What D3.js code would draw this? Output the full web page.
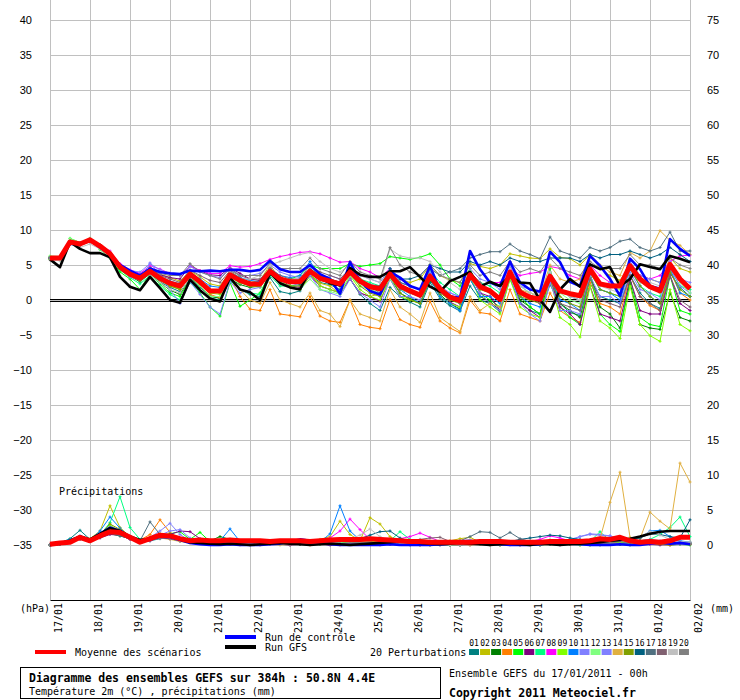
<!DOCTYPE html>
<html>
<head>
<meta charset="utf-8">
<script src="https://cdn.jsdelivr.net/npm/d3@7"></script>
<style>
  body { margin: 0; background: #fff; }
  text { font-family: "DejaVu Sans Mono", monospace; font-size: 10px; fill: #000; }
  .num text { font-family: "Liberation Sans", Arial, sans-serif; font-size: 11px; }
</style>
</head>
<body>
<div id="chart"></div>
<script>
// days on the x axis, one every 4 steps of 6h
var dates = ["17/01","18/01","19/01","20/01","21/01","22/01","23/01","24/01","25/01",
             "26/01","27/01","28/01","29/01","30/01","31/01","01/02","02/02"];
var tempTicks = [40,35,30,25,20,15,10,5,0,-5,-10,-15,-20,-25,-30,-35];
var precipTicks = [75,70,65,60,55,50,45,40,35,30,25,20,15,10,5,0];
var memberNames = ["01","02","03","04","05","06","07","08","09","10",
                   "11","12","13","14","15","16","17","18","19","20"];
var memberColors = ["#008080","#c0c000","#008000","#ff8000","#00ff00","#800080","#00ff80",
                    "#ff00ff","#80ff00","#0080ff","#8080ff","#80ff80","#8080ff","#e0b040",
                    "#80a000","#006080","#507080","#806070","#c0c0c0","#808080"];

// temperature 2m (°C), 65 steps of 6h
var tMean = [6.0,6.0,8.3,8.0, 8.6,7.7,6.6,4.7, 3.7,3.1,4.1,3.1, 2.4,2.0,3.7,2.6, 1.3,1.3,3.6,2.8, 2.3,2.3,4.1,3.0, 2.6,2.6,4.1,3.1, 2.7,2.3,4.0,2.7, 1.9,1.6,3.7,2.0, 1.3,0.7,3.4,1.6, 0.4,-0.1,3.6,1.9, 1.3,0.1,4.0,1.1, 0.4,0.1,3.4,1.3, 0.9,0.6,4.4,2.3, 2.0,2.0,4.9,3.0, 1.9,1.3,5.1,3.0, 1.6];
var tCtrl = [6.0,6.0,8.0,8.0, 8.5,7.5,6.5,5.0, 4.2,3.5,4.5,4.0, 3.8,3.7,4.2,4.1, 4.2,4.1,4.3,4.3, 4.1,4.3,5.6,4.4, 4.0,4.0,5.0,3.7, 3.0,0.9,5.4,2.7, 1.3,0.8,4.0,3.2, 2.0,1.5,4.9,1.3, 0.5,0.3,7.0,4.4, 2.5,2.0,5.5,2.5, 1.5,1.2,6.9,5.4, 2.6,2.0,6.3,4.9, 3.0,0.6,5.9,4.4, 2.0,1.6,8.7,7.3, 6.3];
var tGfs = [5.8,4.7,8.3,7.3, 6.7,6.7,6.1,3.3, 1.9,1.4,3.3,1.7, 0.0,-0.4,2.9,1.4, 0.2,-0.2,3.2,1.5, 1.1,0.0,3.9,2.4, 1.8,1.5,4.3,3.1, 2.4,2.1,4.6,3.6, 3.3,3.3,4.1,4.1, 4.7,3.3,1.9,1.2, 2.7,3.3,4.0,1.9, 2.6,2.0,3.5,2.5, 2.4,0.0,-1.7,1.5, 3.0,1.9,5.1,4.4, 4.7,2.0,3.0,5.1, 4.7,4.4,6.3,5.9, 5.4];
var t01 = [5.9,6.1,8.2,7.9, 8.5,7.6,6.4,4.5, 3.5,2.8,4.0,2.6, 1.8,1.2,3.0,1.8, 0.6,0.2,2.8,1.5, 0.8,0.5,3.2,1.2, 0.9,1.3,3.6,2.5, 2.2,1.5,3.0,0.8, -0.5,-1.5,1.8,0.5, -0.3,-1.0,2.5,0.2, -0.8,-1.6,2.0,0.0, -0.5,-1.7,3.0,-0.3, -1.5,-2.0,2.2,-0.5, -1.8,-2.2,3.0,0.5, 0.0,-0.5,3.5,1.0, -0.5,-1.2,3.8,1.8, 0.5];
var t02 = [6.0,6.2,8.4,8.1, 8.7,7.9,6.8,5.0, 4.1,3.5,4.6,3.7, 3.2,2.7,4.2,3.3, 2.3,2.0,4.1,3.2, 2.5,2.8,5.0,3.0, 1.8,1.5,3.4,2.4, 2.0,0.8,3.1,1.0, 0.5,0.9,3.9,3.0, 2.5,3.0,5.0,3.5, 2.8,2.5,5.2,4.8, 4.5,5.0,6.6,6.3, 6.0,5.9,7.3,6.1, 5.9,5.0,6.5,4.5, 3.5,2.8,5.0,3.5, 3.0,2.5,6.0,4.5, 4.0];
var t03 = [5.8,5.9,8.2,8.0, 8.4,7.5,6.3,4.4, 3.4,2.6,3.8,2.5, 1.4,0.8,3.2,2.0, 0.5,0.3,3.0,2.2, 1.8,2.0,3.8,2.8, 2.4,2.6,4.0,3.0, 2.8,2.5,4.2,2.5, 1.5,0.6,3.2,1.0, 0.2,-0.5,2.8,0.8, -0.5,-1.3,3.0,0.5, -0.2,-1.5,3.8,0.0, -1.0,-2.0,3.5,-0.5, -1.5,-2.5,3.8,-1.0, -2.0,-4.0,2.5,-3.5, -4.0,-4.2,1.0,-2.5, -3.0];
var t04 = [6.1,6.0,8.3,7.8, 8.6,7.7,6.5,4.6, 3.6,3.0,4.3,3.0, 2.0,1.6,3.5,2.3, 0.8,0.3,3.3,0.5, -1.3,-1.5,1.5,-2.0, -2.2,-2.4,0.5,-2.3, -3.0,-3.2,0.0,-3.5, -3.9,-4.1,0.1,-2.8, -3.5,-3.9,-0.2,-3.0, -4.0,-4.7,0.0,-1.8, -2.0,-3.0,1.5,-2.0, -2.5,-3.0,1.0,-1.5, -2.5,-3.2,2.5,-0.5, -1.0,-2.0,3.5,0.5, -0.8,-1.5,4.2,1.0, 0.0];
var t05 = [6.2,5.7,8.8,8.2, 8.8,7.2,6.0,4.0, 3.0,1.5,3.8,2.3, 1.0,0.5,3.0,1.0, -1.0,-2.3,2.5,-0.9, 0.0,1.0,3.8,3.0, 3.0,3.5,5.0,4.5, 4.5,4.5,5.2,4.8, 5.0,5.2,6.2,6.0, 5.8,6.1,6.6,5.0, 3.0,2.0,4.5,1.0, 0.0,-1.0,4.0,0.5, -1.0,-2.0,4.5,-1.0, -2.5,-3.5,3.5,-2.0, -3.5,-4.5,3.0,-2.5, -3.5,-3.8,3.5,-1.5, -2.0];
var t06 = [6.0,6.0,8.2,8.1, 8.6,7.7,6.7,4.9, 4.0,3.5,4.6,3.6, 3.2,3.0,4.9,4.2, 3.6,3.5,4.6,3.8, 3.0,2.8,4.5,3.0, 2.0,1.8,3.5,2.0, 1.5,1.0,3.0,1.0, 0.5,-0.2,3.2,1.5, 1.0,0.5,3.8,1.5, -0.3,-1.0,3.5,1.0, 0.5,-1.5,4.0,-0.5, -1.5,-2.5,3.0,-1.0, -2.0,-3.5,2.0,-2.0, -2.5,-3.0,3.0,-1.5, -2.0,-2.0,3.5,-0.5, -1.5];
var t07 = [5.9,6.0,8.5,8.0, 8.6,7.6,6.4,4.3, 3.2,2.3,3.5,2.0, 0.8,0.0,2.5,1.3, 0.3,0.0,2.8,1.5, 1.0,0.8,3.5,2.0, 2.0,2.2,4.5,3.5, 3.0,2.5,4.5,3.0, 2.5,2.0,4.5,2.5, 2.0,1.5,4.2,2.5, 1.5,0.5,4.0,2.5, 2.0,1.0,4.5,2.0, 1.0,0.5,3.5,1.5, 0.5,0.0,4.0,1.5, 1.0,0.5,4.5,2.0, 1.0,0.5,4.5,2.0, 1.5];
var t08 = [6.1,6.1,8.3,8.0, 8.7,7.9,7.0,5.2, 4.3,3.8,4.9,4.4, 3.8,3.6,4.8,4.2, 3.8,3.8,4.9,4.7, 4.8,5.2,5.8,6.2, 6.5,6.8,6.9,6.6, 6.0,5.4,5.5,4.5, 4.0,3.2,4.5,3.0, 2.0,1.5,3.5,1.0, 0.5,0.0,3.5,2.0, 2.5,2.5,4.5,3.5, 3.8,4.0,4.8,4.5, 3.5,3.0,5.0,3.5, 2.5,2.0,5.0,3.5, 3.0,3.5,5.5,6.3, 6.4];
var t09 = [5.8,5.9,8.4,8.1, 8.7,7.8,6.6,4.6, 3.6,2.9,4.0,2.9, 2.0,1.5,3.5,2.3, 1.0,0.8,3.5,2.5, 2.0,1.8,4.0,2.5, 2.0,1.5,3.8,2.0, 1.5,1.0,3.5,1.5, 0.5,0.0,3.0,0.5, 0.0,-0.5,3.2,0.5, -0.5,-1.0,3.5,0.0, -1.0,-2.0,3.0,-1.0, -2.0,-2.5,3.0,-2.5, -3.5,-5.3,2.0,-3.0, -4.0,-5.5,2.0,-3.5, -5.1,-5.9,1.5,-3.5, -4.4];
var t10 = [6.0,5.9,8.1,7.9, 8.4,7.6,6.5,4.7, 3.9,3.3,4.4,3.3, 2.7,2.3,4.0,3.0, 2.0,1.8,4.0,3.2, 2.8,2.6,4.5,3.5, 3.2,3.5,5.5,3.5, 3.0,2.5,4.5,2.5, 2.0,1.5,4.0,1.5, 0.5,-0.5,3.0,0.5, -0.5,-1.5,3.0,0.5, 0.5,-0.5,4.5,0.5, -0.5,-1.0,3.5,0.0, -0.5,-1.5,4.5,1.5, 1.0,0.0,4.5,2.0, 0.5,-0.5,4.5,1.0, 0.5];
var t11 = [5.9,6.0,8.1,7.8, 8.4,7.5,6.5,4.6, 3.3,2.8,5.3,3.6, 1.5,-0.5,2.6,0.8, -1.0,-2.0,2.6,1.0, 1.5,1.8,3.8,2.5, 2.5,2.0,3.5,1.5, 1.0,0.5,3.0,1.0, 0.0,-1.0,3.0,0.5, 0.5,0.0,3.5,1.5, 1.0,0.5,3.8,1.0, -0.5,-1.5,3.5,-0.5, -2.0,-3.0,2.5,-1.5, -1.5,-2.0,3.5,0.5, 0.5,-0.5,4.0,1.5, 1.0,0.0,4.5,2.0, 1.0];
var t12 = [6.3,6.2,8.8,8.2, 8.8,7.9,6.8,4.9, 3.8,3.1,4.1,2.9, 2.2,1.7,3.3,2.0, 0.5,0.5,3.2,2.4, 2.5,2.0,4.2,2.6, 2.0,1.5,3.0,1.5, 1.2,0.8,3.5,2.0, 1.5,1.0,3.0,1.5, 1.0,0.5,3.5,1.5, 0.5,-0.5,3.0,1.5, 1.5,0.5,4.0,1.0, 0.5,0.0,3.0,1.0, 0.0,-0.5,4.5,2.5, 2.0,1.5,4.5,2.5, 2.0,1.0,5.0,2.5, 1.0];
var t13 = [6.0,6.1,8.3,8.2, 8.7,7.8,6.8,5.0, 4.2,4.0,5.2,4.3, 3.8,3.5,4.8,4.0, 3.5,3.2,4.5,3.5, 3.5,3.8,5.0,4.0, 3.5,3.2,4.5,3.0, 3.5,3.0,4.5,3.5, 3.0,2.5,4.5,2.5, 2.0,1.5,4.0,2.0, 1.0,0.5,4.5,3.0, 2.5,1.5,5.0,2.0, 1.5,1.0,4.0,1.5, 0.5,0.0,4.5,2.0, 2.5,2.0,5.5,3.5, 3.0,2.5,5.5,3.0, 2.5];
var t14 = [6.0,6.1,8.2,8.0, 8.5,7.8,6.7,4.8, 3.8,3.2,4.2,3.2, 2.5,2.2,3.8,2.7, 1.5,1.0,3.5,1.5, 0.0,-0.5,2.5,0.0, -0.5,-1.0,1.0,-1.5, -2.0,-3.8,0.0,-2.0, -2.5,-3.0,1.5,-1.0, -2.0,-3.2,1.0,-2.5, -3.5,-4.5,0.5,-1.5, -0.5,-1.0,3.5,1.5, 1.0,0.5,5.0,3.0, 2.5,3.0,6.5,5.0, 4.0,3.5,6.8,6.0, 7.0,9.9,8.5,7.8, 6.5];
var t15 = [5.9,6.0,8.2,7.9, 8.5,7.6,6.5,4.5, 3.5,2.8,3.8,2.8, 2.0,1.5,3.4,2.4, 1.2,1.0,3.4,2.5, 2.0,2.0,3.8,2.5, 2.0,2.0,3.8,2.8, 2.5,2.0,3.8,2.0, 1.0,0.5,3.5,1.0, 0.0,-0.5,3.0,1.0, 0.0,-0.5,3.5,1.5, 1.0,0.0,4.0,0.5, 0.0,-0.5,3.5,0.5, -0.5,-1.0,4.0,1.5, 1.0,0.5,4.5,2.0, 0.5,-0.5,4.0,1.5, 0.5];
var t16 = [6.0,6.0,8.4,8.1, 8.6,7.7,6.6,4.8, 3.8,3.2,4.2,3.2, 2.5,2.1,3.8,2.7, 1.4,1.3,3.6,2.8, 2.3,2.3,4.0,2.8, 2.5,2.3,4.0,3.0, 2.5,2.0,4.0,2.5, 2.0,1.5,4.5,3.0, 3.0,3.5,5.0,4.5, 4.0,4.0,5.5,5.0, 5.5,5.0,6.0,5.5, 5.5,5.5,6.0,6.0, 6.0,5.5,6.5,6.0, 6.5,6.5,7.0,6.5, 6.0,6.5,7.5,6.5, 5.5];
var t17 = [6.0,6.1,8.3,8.0, 8.6,7.7,6.6,4.7, 3.7,3.1,4.1,3.1, 2.4,2.0,3.7,2.6, 1.5,1.5,3.8,3.0, 2.5,2.5,4.3,3.2, 2.8,2.8,4.3,3.3, 3.0,2.5,4.2,3.0, 2.2,2.0,4.0,2.5, 2.0,1.5,4.5,3.5, 4.0,4.5,6.0,6.5, 6.9,6.9,8.0,7.0, 6.5,5.9,9.0,7.0, 6.5,6.0,7.5,7.0, 7.5,8.4,8.7,7.5, 7.0,7.5,9.7,7.0, 7.0];
var t18 = [6.0,5.9,8.2,7.9, 8.5,7.7,6.7,4.7, 3.8,3.3,4.5,3.5, 3.0,2.5,4.3,3.5, 2.8,2.5,4.2,3.5, 3.0,3.0,4.5,3.5, 3.0,3.0,5.0,4.0, 3.5,3.0,4.5,2.5, 2.0,1.0,3.5,1.5, 1.5,0.5,3.5,1.5, 0.5,-0.5,4.0,2.5, 1.5,0.5,4.5,1.5, 0.5,-0.5,3.0,-0.5, -1.0,-1.5,3.0,0.0, -0.5,-1.0,3.5,0.5, -0.5,-1.5,3.5,0.0, -1.0];
var t19 = [5.7,5.6,8.0,7.5, 8.0,7.3,6.0,3.5, 1.8,1.5,3.6,2.5, 1.5,1.0,3.2,2.5, 1.5,1.5,4.0,3.0, 3.0,3.5,5.0,5.5, 6.0,6.5,6.8,5.5, 4.5,4.0,5.0,3.5, 3.0,2.5,7.3,6.3, 6.0,6.0,5.5,4.0, 2.5,1.5,4.0,2.0, 1.0,0.5,4.5,2.0, 1.0,0.5,4.0,1.5, 0.5,0.0,4.5,2.0, 1.5,1.0,4.5,2.5, 2.5,2.0,5.0,3.0, 2.0];
var t20 = [6.0,6.0,8.1,7.8, 8.3,7.6,6.6,4.8, 4.0,3.6,4.6,3.8, 3.5,3.5,5.2,4.0, 3.5,3.0,4.5,3.5, 3.5,3.5,5.3,4.5, 4.5,4.5,6.0,4.5, 4.0,3.5,5.5,4.0, 3.5,3.0,7.5,5.0, 4.0,3.5,5.0,3.5, 3.0,2.5,5.0,3.5, 4.0,3.5,5.5,4.0, 4.5,4.0,6.0,4.5, 4.0,3.5,5.5,4.5, 4.5,4.5,6.5,5.0, 5.0,4.5,6.0,5.0, 4.5];

// precipitations (mm per 6h), right axis
var pMean = [0.1,0.3,0.4,1.1, 0.6,1.3,1.9,1.8, 1.1,0.4,0.9,1.4, 1.3,0.9,0.6,0.7, 0.6,0.6,0.7,0.6, 0.6,0.6,0.5,0.6, 0.6,0.6,0.5,0.6, 0.7,0.8,0.8,0.8, 0.9,0.8,0.7,0.6, 0.5,0.5,0.4,0.4, 0.4,0.4,0.4,0.5, 0.5,0.5,0.4,0.4, 0.4,0.4,0.5,0.5, 0.5,0.5,0.6,0.9, 0.8,1.1,0.6,0.4, 0.5,0.4,0.6,1.1, 1.1];
var pCtrl = [0,0.2,0.6,1.2, 0.7,1.6,2.5,2.0, 1.1,0.6,0.8,1.2, 1.1,0.7,0.3,0.1, 0,0,0.1,0, 0,0,0.1,0.2, 0.5,0.8,0.6,0.3, 0.1,0,0,0, 0,0,0.1,0, 0,0,0,0.1, 0.2,0.5,0.6,0.4, 0.2,0.1,0,0, 0,0.1,0.3,0.4, 0.2,0.1,0,0, 0,0.1,0,0, 0.2,0.4,0.2,0.3, 0.1];
var pGfs = [0,0.2,0.6,1.2, 0.8,1.6,2.4,2.0, 1.2,0.7,0.9,1.3, 1.2,0.8,0.4,0.3, 0.2,0.1,0.2,0.1, 0,0.1,0.2,0.3, 0.2,0.1,0,0.1, 0.2,0.1,0,0.1, 0.2,0.3,0.4,0.5, 0.4,0.3,0.2,0.1, 0.2,0.3,0.2,0.1, 0,0.1,0.2,0.1, 0,0.2,0.1,0, 0.1,0.2,0.3,0.4, 0.6,0.7,0.9,1.2, 1.6,1.9,2.0,2.0, 2.0];
var p01 = [0,0.3,0.9,2.1, 0.8,1.2,1.8,1.5, 1.0,0.5,0.6,0.9, 1.2,0.8,0.5,0.4, 0.3,0.2,0.5,0.6, 0.4,0.3,0.2,0.4, 0.6,0.5,0.3,0.2, 0.4,0.3,0.2,0.1, 0.2,0.3,0.2,0.1, 0,0.2,0.4,0.2, 0.1,0,0.1,0.2, 0.3,0.5,0.3,0.2, 0.1,0,0.2,0.3, 0.2,0.1,0.2,0.3, 0.5,0.4,0.3,0.6, 0.5,0.4,0.3,0.2, 0.3];
var p02 = [0,0.2,0.6,1.2, 0.9,2.0,5.6,2.5, 1.2,0.6,0.8,1.5, 1.0,0.6,0.4,0.3, 0.5,0.4,0.3,0.2, 0.1,0.2,0.3,0.4, 0.3,0.2,0.5,0.8, 1.2,3.4,1.5,0.6, 3.9,3.0,1.2,0.4, 0.3,0.2,0.1,0.4, 0.6,0.9,1.1,0.4, 0.2,0.1,0.1,0, 0,0.1,0.2,0.3, 0.2,0.1,0,0.1, 0.2,0.3,0.2,0.5, 0.6,0.3,0.2,0.3, 0.4];
var p03 = [0,0.1,0.5,1.0, 0.6,1.1,1.6,1.3, 0.9,0.5,0.9,1.3, 1.0,0.8,0.4,0.3, 0.6,1.2,0.8,0.4, 0.2,0.1,0.2,0.3, 0.2,0.1,0.3,0.2, 0.1,0.2,0.4,0.3, 0.2,0.1,0.3,0.2, 0.1,0,0.1,0.2, 0.1,0,0.2,0.4, 0.5,0.3,0.2,0.1, 0.1,0.4,0.7,0.5, 0.3,0.2,0.1,0, 0.2,0.1,0,0.1, 0.2,0.1,0,0.1, 0.2];
var p04 = [0,0.3,0.7,1.1, 0.5,1.4,2.3,1.6, 1.0,0.7,1.5,3.6, 1.8,0.9,0.5,0.3, 0.2,0.1,0.2,0.3, 0.1,0,0.1,0.2, 0.3,0.1,0,0.2, 0.1,0,0.1,0.2, 0.1,0,0.2,0.3, 0.1,0,0,0.1, 0,0,0.1,0.2, 0.1,0,0.3,0.2, 0.1,0,0.1,0.2, 0.1,0,0.2,0.4, 0.3,0.2,0.1,0.2, 0.3,0.1,0,0.2, 0.1];
var p05 = [0,0.2,0.8,1.2, 0.7,1.6,2.4,2.0, 1.1,0.6,0.7,1.4, 1.6,1.9,0.8,1.8, 0.5,0.3,0.2,0.5, 0.3,0.2,0.1,0.3, 0.5,0.4,0.2,0.1, 0.3,0.5,0.3,0.2, 0.1,0.2,0.4,0.3, 0.2,0.1,0,0.1, 0.2,0.4,0.3,0.2, 0.1,0,0.1,0.2, 0.3,0.5,0.4,0.2, 0.1,0,0,0.1, 0.2,0.1,0.3,0.5, 0.4,0.3,0.2,0.1, 0];
var p06 = [0,0.1,0.4,0.9, 0.5,1.0,1.5,1.4, 0.8,0.4,0.6,1.1, 1.5,2.0,1.9,0.9, 0.6,0.3,0.2,0.1, 0.2,0.3,0.2,0.1, 0,0.1,0.2,0.1, 0,0.1,0.3,0.4, 0.3,0.2,0.1,0.2, 0.3,0.2,0.1,0, 0,0.1,0,0.2, 0.3,0.2,0.1,0, 0.1,0.2,0.1,0, 0.1,0.2,0.1,0.3, 0.5,0.6,0.4,0.2, 0.1,0,0.1,0.2, 0.1];
var p07 = [0,0.2,0.6,1.0, 0.6,1.4,3.2,6.9, 2.5,0.8,0.9,1.2, 1.0,0.7,0.4,0.3, 0.2,0.3,0.4,0.3, 0.2,0.1,0.2,0.1, 0.3,0.2,0.1,0.2, 0.3,0.2,0.1,0.2, 0.3,0.5,0.6,1.9, 0.8,0.3,0.2,0.1, 0,0.1,0.2,0.3, 0.2,0.1,0.2,0.3, 0.1,0,0.1,0.2, 0.3,0.3,0.5,1.9, 0.6,0.4,0.5,0.6, 0.8,1.5,2.5,4.0, 1.2];
var p08 = [0,0.2,0.5,0.9, 0.5,1.2,1.9,1.6, 1.0,0.6,0.7,1.0, 0.9,0.6,0.4,0.3, 0.2,0.4,0.3,0.2, 0.1,0.2,0.3,0.4, 0.3,0.2,0.3,0.5, 1.0,2.0,3.7,2.2, 0.8,0.5,0.4,0.9, 1.2,1.7,1.1,0.5, 0.3,0.2,0.4,0.6, 0.5,0.3,0.2,0.3, 0.5,0.8,1.3,1.0, 0.6,0.4,0.3,0.2, 0.1,0.2,0.3,0.2, 0.1,0.2,0.3,0.4, 0.3];
var p09 = [0,0.2,0.6,1.0, 0.7,1.3,2.8,2.0, 1.2,0.7,0.8,1.1, 1.0,0.7,0.5,0.3, 0.2,0.2,0.3,0.2, 0.1,0.1,0.2,0.3, 0.2,0.1,0.2,0.3, 0.2,0.1,0.2,0.4, 0.5,0.4,0.3,0.2, 0.1,0.2,0.3,0.2, 0.1,0.2,0.3,0.4, 0.2,0.1,0.1,0.2, 0.3,0.2,0.1,0.2, 0.4,0.3,0.2,0.1, 0.2,0.3,0.2,0.1, 0.2,0.3,0.2,0.1, 0.2];
var p10 = [0,0.3,0.8,1.3, 0.7,2.0,4.0,2.4, 1.1,0.6,0.9,1.3, 1.1,0.7,0.4,0.3, 0.2,0.6,2.3,0.5, 0.2,0.3,0.2,0.3, 0.4,0.3,0.2,0.4, 1.6,5.6,2.0,0.7, 0.4,0.3,0.2,0.3, 0.2,0.1,0.2,0.1, 0,0.1,0.2,0.3, 0.2,0.1,0.2,0.1, 0.2,0.3,0.2,0.1, 0.2,0.3,0.4,0.6, 0.9,0.8,0.6,1.0, 2.0,2.1,1.2,0.6, 0.4];
var p11 = [0,0.2,0.5,1.0, 0.6,1.3,2.2,1.8, 1.0,0.6,1.1,2.0, 3.1,1.5,0.6,0.4, 0.3,0.2,0.3,0.2, 0.1,0.2,0.3,0.2, 0.1,0.2,0.3,0.2, 0.1,0.2,0.3,0.2, 0.1,0.2,0.3,0.2, 0.1,0.2,0.1,0, 0.1,0.2,0.3,0.2, 0.1,0.2,0.3,0.2, 0.1,0.2,0.3,0.5, 0.8,1.2,1.5,1.4, 1.3,0.9,0.7,0.6, 0.8,0.6,0.4,0.3, 0.2];
var p12 = [0,0.2,0.6,1.1, 0.6,1.5,2.6,1.9, 1.0,0.5,0.8,1.2, 1.0,0.6,0.4,0.3, 0.2,0.3,0.2,0.1, 0.2,0.3,0.2,0.1, 0.2,0.3,0.2,0.1, 0.2,0.3,0.2,0.1, 0.2,0.3,0.2,0.1, 0.2,0.3,0.2,0.1, 0.3,0.5,0.4,0.2, 0.2,0.3,0.2,0.1, 0.2,0.3,0.2,0.1, 0.2,0.3,0.2,0.1, 0.4,0.6,0.3,0.2, 0.2,0.3,0.2,0.1, 0.2];
var p13 = [0,0.2,0.5,1.0, 0.5,1.1,1.8,1.5, 0.9,0.5,0.8,1.4, 2.0,2.2,1.0,0.5, 0.3,0.2,0.1,0.2, 0.3,0.2,0.1,0.2, 0.3,0.2,0.1,0.2, 0.3,0.2,0.1,0.2, 0.3,0.2,0.1,0.2, 0.3,0.2,0.1,0.2, 0.1,0,0.1,0.2, 0.3,0.2,0.1,0.2, 0.3,0.2,0.1,0.2, 0.5,1.2,1.6,1.5, 1.3,0.6,0.4,0.3, 0.2,0.3,0.2,0.1, 0.2];
var p14 = [0,0.2,0.5,0.9, 0.6,1.3,2.1,1.7, 1.0,0.6,0.7,1.0, 0.8,0.5,0.3,0.2, 0.1,0.2,0.1,0, 0.1,0.2,0.1,0, 0.1,0.2,0.3,0.2, 0.1,0.2,0.3,0.4, 0.6,1.0,0.7,0.3, 0.2,0.1,0,0.1, 0.2,0.1,0,0.1, 0.2,0.1,0,0.1, 0.2,0.3,0.2,0.1, 0.2,0.4,0.6,0.9, 6.1,10.4,1.1,0.9, 4.7,3.4,2.3,11.7, 9.0];
var p15 = [0,0.2,0.6,1.1, 0.7,1.5,3.0,2.2, 1.1,0.6,0.9,1.6, 1.3,0.8,0.5,0.3, 0.2,0.1,0.2,0.3, 0.2,0.1,0.2,0.3, 0.2,0.1,0.2,0.3, 0.2,0.1,0.2,0.3, 0.2,0.4,0.5,0.3, 0.2,0.1,0.2,0.1, 0,0.1,0.2,0.1, 0,0.1,0.2,0.3, 0.2,0.1,0.2,0.3, 0.2,0.1,0.2,0.3, 0.4,0.5,0.6,0.3, 0.2,0.1,0.2,0.3, 0.2];
var p16 = [0,0.2,0.5,1.0, 0.6,1.2,2.0,1.6, 1.0,0.6,0.8,1.1, 1.0,0.7,0.4,0.3, 0.2,0.3,0.4,0.3, 0.2,0.1,0.2,0.3, 0.2,0.1,0.2,0.3, 0.4,0.5,0.6,0.9, 1.4,1.9,2.0,1.0, 0.5,0.3,0.2,0.1, 0.2,0.3,0.5,0.6, 0.4,0.3,0.5,0.8, 1.0,1.2,1.4,1.3, 1.0,0.8,0.7,0.6, 0.5,0.6,0.8,1.0, 1.6,1.5,1.2,1.0, 3.6];
var p17 = [0,0.1,0.4,0.8, 0.5,1.1,1.7,1.3, 0.9,0.6,3.3,1.5, 0.9,0.6,0.4,0.3, 0.2,0.1,0.2,0.3, 0.2,0.1,0.2,0.3, 0.2,0.1,0.2,0.3, 0.2,0.1,0.2,0.3, 0.2,0.1,0.2,0.3, 0.2,0.1,0.2,0.3, 0.4,0.6,1.2,1.9, 1.8,1.0,1.8,0.9, 0.5,0.3,0.2,0.4, 0.3,0.2,0.1,0.2, 0.3,0.2,0.4,0.5, 0.6,0.4,0.3,0.2, 0.3];
var p18 = [0,0.2,0.5,0.9, 0.6,1.2,1.9,1.5, 0.9,0.5,0.7,1.0, 0.9,0.6,0.4,0.3, 0.2,0.1,0.2,0.1, 0,0.1,0.2,0.1, 0,0.1,0.2,0.3, 0.2,0.1,0.2,0.3, 0.2,0.1,0.2,0.3, 0.5,0.8,1.0,1.1, 0.5,0.2,0.1,0.2, 0.1,0,0.1,0.2, 0.1,0,0.1,0.2, 0.3,0.2,0.1,0.2, 0.3,0.2,0.1,0.2, 0.3,0.2,0.1,0.2, 0.1];
var p19 = [0,0.2,0.6,1.0, 0.6,1.3,2.2,1.7, 1.0,0.6,0.8,1.2, 1.0,0.6,0.4,0.3, 0.2,0.3,0.2,0.1, 0.2,0.3,0.2,0.1, 0.2,0.3,0.4,0.3, 0.2,0.5,0.9,1.4, 2.3,1.2,0.6,0.3, 0.2,0.1,0.2,0.1, 0,0.1,0.2,0.1, 0,0.1,0.2,0.3, 0.2,0.1,0.2,0.3, 0.2,0.4,0.7,0.9, 0.6,0.5,0.8,1.2, 1.9,1.4,0.8,0.5, 0.4];
var p20 = [0,0.2,0.6,1.2, 0.7,1.5,2.4,2.0, 1.2,0.7,1.0,1.5, 1.3,0.9,0.5,0.4, 0.3,0.2,0.3,0.4, 0.3,0.2,0.3,0.4, 0.3,0.2,0.3,0.4, 0.3,0.2,0.3,0.4, 0.3,0.2,0.3,0.4, 0.3,0.2,0.3,0.4, 0.3,0.2,0.3,0.4, 0.3,0.2,0.3,0.4, 0.3,0.2,0.3,0.4, 0.3,0.2,0.3,0.4, 0.3,0.2,0.4,0.6, 0.7,0.5,0.4,0.3, 0.2];

var tempMembers = [t01,t02,t03,t04,t05,t06,t07,t08,t09,t10,t11,t12,t13,t14,t15,t16,t17,t18,t19,t20];
var precipMembers = [p01,p02,p03,p04,p05,p06,p07,p08,p09,p10,p11,p12,p13,p14,p15,p16,p17,p18,p19,p20];

var svg = d3.select("#chart").append("svg")
    .attr("width", 740)
    .attr("height", 700);

// scales: one step = 6h, left = °C, right = mm (same pixels per unit)
var x = d3.scaleLinear().domain([0, 64]).range([50, 690]);
var y = d3.scaleLinear().domain([-35, 40]).range([545, 20]);
var yR = d3.scaleLinear().domain([0, 75]).range([545, 20]);

// vertical grid + bottom axis with dates
var xAxis = svg.append("g")
    .attr("transform", "translate(0,600)")
    .call(d3.axisBottom(x)
        .tickValues(dates.map(function(d, i) { return i * 4; }))
        .tickSize(-600)
        .tickSizeOuter(0)
        .tickFormat(function(d, i) { return dates[i]; }));
xAxis.select(".domain").attr("stroke", "#000");
xAxis.selectAll(".tick line").attr("stroke", "#c0c0c0").attr("shape-rendering", "crispEdges");
xAxis.selectAll(".tick text")
    .attr("transform", "rotate(-90)")
    .attr("text-anchor", "end")
    .attr("x", -3)
    .attr("y", 11)
    .attr("dy", 0)
    .style("font-family", "'DejaVu Sans Mono', monospace")
    .style("font-size", "10px");

// horizontal grid + left axis
var yAxis = svg.append("g")
    .attr("class", "num")
    .attr("transform", "translate(50,0)")
    .call(d3.axisLeft(y).tickValues(tempTicks).tickSize(-640).tickPadding(18));
yAxis.select(".domain").remove();
yAxis.selectAll(".tick line").attr("stroke", "#c0c0c0").attr("shape-rendering", "crispEdges");

// right axis (precipitations)
var yAxisR = svg.append("g")
    .attr("class", "num")
    .attr("transform", "translate(690,0)")
    .call(d3.axisRight(yR).tickValues(precipTicks).tickSize(0).tickPadding(17));
yAxisR.select(".domain").remove();

// double zero line
[-0.5, 1.5].forEach(function(off) {
    svg.append("line")
        .attr("x1", x(0)).attr("x2", x(64))
        .attr("y1", y(0) + off).attr("y2", y(0) + off)
        .attr("stroke", "#000").attr("stroke-width", 1);
});

function drawSeries(values, scaleY, color, width, marks) {
    var line = d3.line()
        .x(function(d, i) { return x(i); })
        .y(function(d) { return scaleY(d); });
    svg.append("path")
        .datum(values)
        .attr("d", line)
        .attr("fill", "none")
        .attr("stroke", color)
        .attr("stroke-width", width)
        .attr("stroke-linejoin", "round");
    if (marks) {
        // small "+" on every 6h point
        var dd = values.map(function(v, i) {
            var px = x(i), py = scaleY(v);
            return "M" + (px - 1.5) + "," + py + "H" + (px + 1.5) + "M" + px + "," + (py - 1.5) + "V" + (py + 1.5);
        }).join("");
        svg.append("path").attr("d", dd).attr("stroke", color).attr("stroke-width", 1).attr("fill", "none");
    }
}

// temperature
tempMembers.forEach(function(s, k) { drawSeries(s, y, memberColors[k], 1, true); });
drawSeries(tCtrl, y, "#0000ff", 2.6, false);
drawSeries(tGfs, y, "#000000", 2.6, false);
drawSeries(tMean, y, "#ff0000", 5, false);

// precipitations
precipMembers.forEach(function(s, k) { drawSeries(s, yR, memberColors[k], 1, true); });
drawSeries(pCtrl, yR, "#0000ff", 2.6, false);
drawSeries(pGfs, yR, "#000000", 2.6, false);
drawSeries(pMean, yR, "#ff0000", 5, false);

svg.append("text").attr("x", 59).attr("y", 495).text("Précipitations");
svg.append("text").attr("x", 20).attr("y", 612).text("(hPa)");
svg.append("text").attr("x", 710).attr("y", 612).text("(mm)");

// legend
svg.append("line").attr("x1", 35).attr("x2", 66).attr("y1", 652).attr("y2", 652)
    .attr("stroke", "#ff0000").attr("stroke-width", 4);
svg.append("text").attr("x", 75).attr("y", 656).text("Moyenne des scénarios");
svg.append("line").attr("x1", 225).attr("x2", 256).attr("y1", 637).attr("y2", 637)
    .attr("stroke", "#0000ff").attr("stroke-width", 4);
svg.append("text").attr("x", 265).attr("y", 641).text("Run de contrôle");
svg.append("line").attr("x1", 225).attr("x2", 256).attr("y1", 647).attr("y2", 647)
    .attr("stroke", "#000").attr("stroke-width", 4);
svg.append("text").attr("x", 265).attr("y", 651).text("Run GFS");
svg.append("text").attr("x", 370).attr("y", 656).text("20 Perturbations");

var lg = svg.append("g").selectAll("g")
    .data(memberNames)
    .enter().append("g")
    .attr("transform", function(d, i) { return "translate(" + (469 + i * 11.05) + ",0)"; });
lg.append("rect")
    .attr("x", 0).attr("y", 649).attr("width", 10).attr("height", 6)
    .attr("fill", function(d, i) { return memberColors[i]; });
lg.append("text")
    .attr("x", 5).attr("y", 646)
    .attr("text-anchor", "middle")
    .style("font-size", "8px")
    .text(function(d) { return d; });

// title box
svg.append("rect").attr("x", 20.5).attr("y", 667.5).attr("width", 420).attr("height", 31)
    .attr("fill", "none").attr("stroke", "#000");
svg.append("text").attr("x", 29).attr("y", 682)
    .style("font-size", "11.5px").style("font-weight", "bold")
    .text("Diagramme des ensembles GEFS sur 384h : 50.8N 4.4E");
svg.append("text").attr("x", 29).attr("y", 695)
    .text("Température 2m (°C) , précipitations (mm)");
svg.append("text").attr("x", 449).attr("y", 677)
    .text("Ensemble GEFS du 17/01/2011 - 00h");
svg.append("text").attr("x", 449).attr("y", 697)
    .style("font-size", "11.5px").style("font-weight", "bold")
    .text("Copyright 2011 Meteociel.fr");
</script>
</body>
</html>
